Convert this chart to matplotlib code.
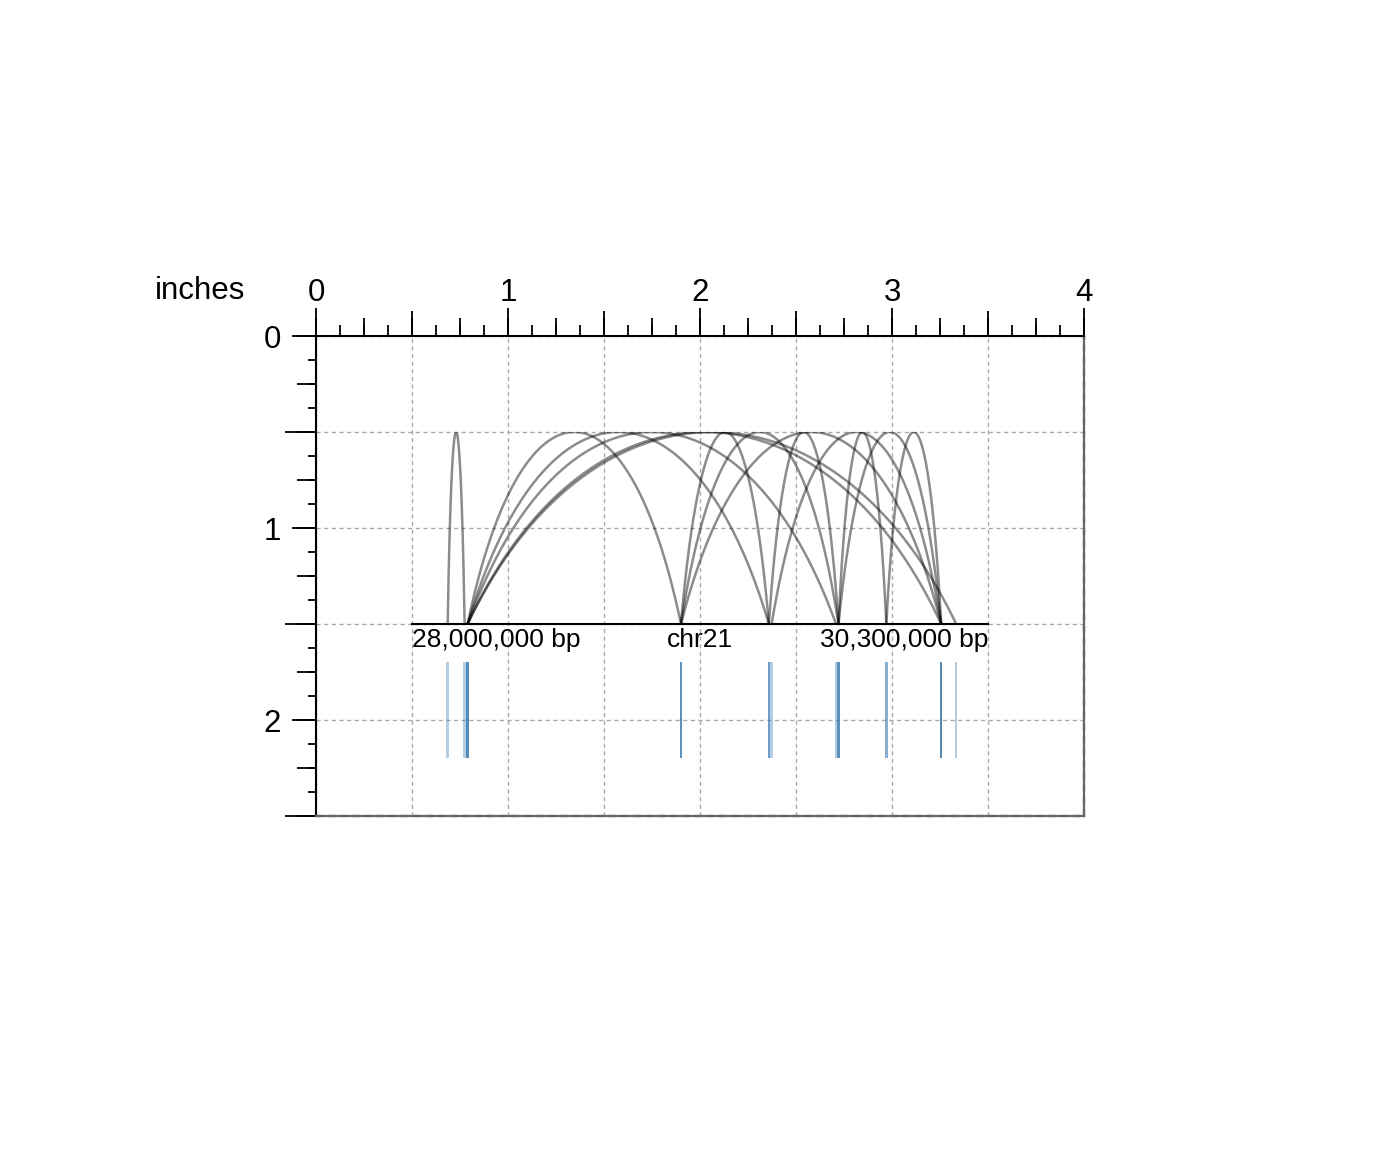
import numpy as np
import matplotlib
matplotlib.use("Agg")
import matplotlib.pyplot as plt
from matplotlib.ticker import MultipleLocator, FuncFormatter

plt.rcParams['font.family'] = ['Liberation Sans', 'DejaVu Sans']

# ---------------- data ----------------
chrom = "chr21"
chromstart = 28000000
chromend = 30300000

# paired anchors (bp)
start1 = [28137500, 28217000, 28217000, 28217000, 28217000, 28217000,
          29069000, 29069000, 29069000, 29420000, 29431000, 29698000,
          29698000, 29889000]
end1 = [28147500, 28227000, 28227000, 28227000, 28227000, 28227000,
        29079000, 29079000, 29079000, 29430000, 29441000, 29708000,
        29708000, 29899000]
start2 = [28205000, 29069000, 29420000, 29688000, 30108000, 30168000,
          29420000, 29698000, 30108000, 29698000, 30108000, 29889000,
          30108000, 30108000]
end2 = [28215000, 29079000, 29430000, 29698000, 30118000, 30178000,
        29430000, 29708000, 30118000, 29708000, 30118000, 29899000,
        30118000, 30118000]

arch_height = 1.0

# page ruler
page_width = 4
page_height = 2.5

# ---------------- figure ----------------
W, H = 1400, 1152
fig = plt.figure(figsize=(W / 100, H / 100), dpi=100)

def fig_rect(x0, y0, x1, y1):
    return [x0 / W, 1 - y1 / H, (x1 - x0) / W, (y1 - y0) / H]

# page axes (inches)
ax = fig.add_axes(fig_rect(316, 336, 1084, 816))
ax.set_xlim(0, page_width)
ax.set_ylim(page_height, 0)
ax.set_facecolor('none')
ax.xaxis.set_major_locator(MultipleLocator(1))
ax.xaxis.set_minor_locator(MultipleLocator(0.5))
ax.yaxis.set_major_locator(MultipleLocator(1))
ax.yaxis.set_minor_locator(MultipleLocator(0.5))
ax.xaxis.set_major_formatter(FuncFormatter(lambda v, p: f"{v:g}"))
ax.yaxis.set_major_formatter(FuncFormatter(lambda v, p: f"{v:g}"))
ax.xaxis.tick_top()
ax.tick_params(axis='x', which='major', direction='out', length=20, width=1.3,
               labelsize=22.5, pad=0, top=True, bottom=False)
ax.tick_params(axis='x', which='minor', direction='out', length=18, width=1.3,
               top=True, bottom=False)
ax.tick_params(axis='y', which='major', direction='out', length=17, width=1.3,
               labelsize=22.5, pad=8, left=True, right=False)
ax.tick_params(axis='y', which='minor', direction='out', length=22, width=1.3,
               left=True, right=False)
ax.grid(which='both', color='#aaaaaa', linestyle=(0, (3, 2.5)), linewidth=1.0)
for s in ['top', 'left']:
    ax.spines[s].set_linewidth(1.5)
for s in ['right', 'bottom']:
    ax.spines[s].set_linewidth(1.6)
    ax.spines[s].set_color('#666666')
ax.axvline(page_width, color='#111111', lw=1.6, linestyle=(0, (3, 2.5)), clip_on=False)
ax.axhline(page_height, color='#111111', lw=1.6, linestyle=(0, (3, 2.5)), clip_on=False)

# finer ruler ticks
for step, lx, ly in [(0.25, 13, 14), (0.125, 8, 6)]:
    sx = ax.secondary_xaxis('top')
    sx.set_xticks(np.arange(0, page_width + 1e-9, step))
    sx.tick_params(axis='x', length=lx, width=1.3, labeltop=False, direction='out')
    sx.spines['top'].set_visible(False)
    sy = ax.secondary_yaxis('left')
    sy.set_yticks(np.arange(0, page_height + 1e-9, step))
    sy.tick_params(axis='y', length=ly, width=1.3, labelleft=False, direction='out')
    sy.spines['left'].set_visible(False)

fig.text(200 / W, 1 - 291 / H, "inches", ha='center', va='center', fontsize=22.5)

# ---------------- arches ----------------
axa = fig.add_axes(fig_rect(412, 432, 988, 624))
axa.set_xlim(chromstart, chromend)
axa.set_ylim(0, arch_height)
axa.axis('off')
k = 0.25  # relative inset of bezier control points (style)
t = np.linspace(0, 1, 300)
b0 = (1 - t) ** 3
b1 = 3 * (1 - t) ** 2 * t
b2 = 3 * (1 - t) * t ** 2
b3 = t ** 3
for s1, e1, s2, e2 in zip(start1, end1, start2, end2):
    c1 = (s1 + e1) / 2
    c2 = (s2 + e2) / 2
    w = c2 - c1
    px = [c1, c1 + k * w, c2 - k * w, c2]
    py = [0, 4 / 3 * arch_height, 4 / 3 * arch_height, 0]
    xs = b0 * px[0] + b1 * px[1] + b2 * px[2] + b3 * px[3]
    ys = b0 * py[0] + b1 * py[1] + b2 * py[2] + b3 * py[3]
    axa.plot(xs, ys, color='black', alpha=0.45, lw=1.8, solid_capstyle='butt')
axa.axhline(0, color='black', lw=1.5, clip_on=False)
axa.text(chromstart, -0.085, f"{chromstart:,} bp", ha='left', va='center', fontsize=19)
axa.text((chromstart + chromend) / 2, -0.085, chrom, ha='center', va='center', fontsize=19)
axa.text(chromend, -0.085, f"{chromend:,} bp", ha='right', va='center', fontsize=19)

# ---------------- anchor ranges ----------------
axr = fig.add_axes(fig_rect(412, 662, 988, 758))
axr.set_xlim(chromstart, chromend)
axr.set_ylim(0, 1)
axr.axis('off')
anchor_starts = start1 + start2
anchor_ends = end1 + end2
axr.bar(anchor_starts, 1, width=[e - s for s, e in zip(anchor_starts, anchor_ends)],
        bottom=0, align='edge', color='#4682B4', alpha=0.4, linewidth=0)

fig.savefig("out.png", dpi=100)
